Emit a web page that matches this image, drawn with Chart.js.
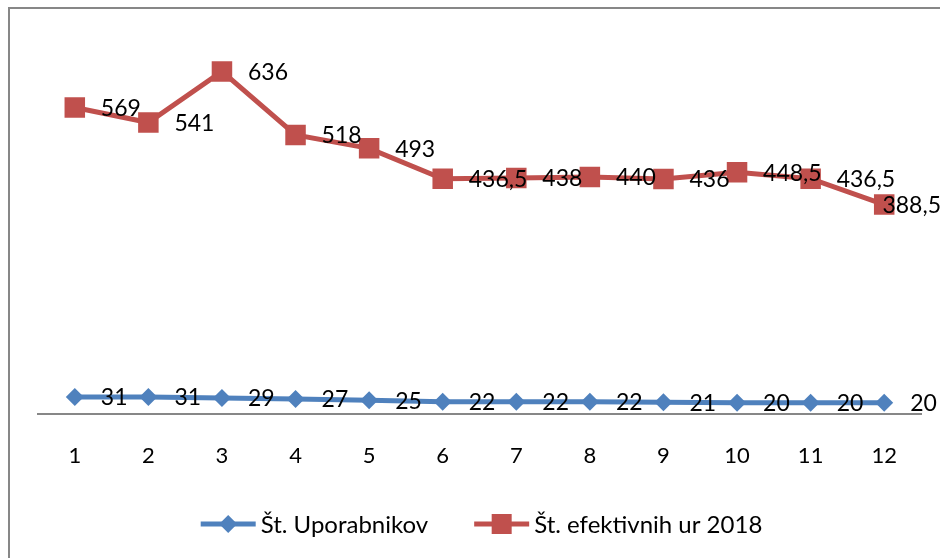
<!DOCTYPE html>
<html>
<head>
<meta charset="utf-8">
<script src="https://cdn.jsdelivr.net/npm/chart.js@4.4.1/dist/chart.umd.min.js"></script>
<style>
  html, body { margin: 0; padding: 0; background: #fff; }
  #wrap { position: relative; width: 940px; height: 558px; }
</style>
</head>
<body>
<div id="wrap"><canvas id="chart" width="940" height="558"></canvas></div>
<script>
const months = ['1', '2', '3', '4', '5', '6', '7', '8', '9', '10', '11', '12'];
const users = [31, 31, 29, 27, 25, 22, 22, 22, 21, 20, 20, 20];
const hours = [569, 541, 636, 518, 493, 436.5, 438, 440, 436, 448.5, 436.5, 388.5];
const seriesNames = ['Št. Uporabnikov', 'Št. efektivnih ur 2018'];

const BLUE = '#4F81BD';
const RED = '#C0504D';
const FONT = 'Lato, "Open Sans", sans-serif';

const frame = {
  id: 'frame',
  beforeDraw(chart) {
    const ctx = chart.ctx;
    ctx.save();
    ctx.fillStyle = '#fff';
    ctx.fillRect(0, 0, chart.width, chart.height);
    ctx.strokeStyle = '#878787';
    ctx.lineWidth = 2;
    ctx.strokeRect(9, 8, 1000, 1000);
    ctx.restore();
  }
};

// value labels to the right of each point, kept inside the canvas
const valueLabels = {
  id: 'valueLabels',
  afterDatasetsDraw(chart) {
    const ctx = chart.ctx;
    ctx.save();
    ctx.font = '23px ' + FONT;
    ctx.fillStyle = '#000';
    ctx.textBaseline = 'middle';
    ctx.textAlign = 'left';
    chart.data.datasets.forEach((ds, i) => {
      chart.getDatasetMeta(i).data.forEach((pt, j) => {
        const txt = String(ds.data[j]).replace('.', ',');
        const w = ctx.measureText(txt).width;
        let x = pt.x + 26;
        if (x + w > chart.width + 1) x = chart.width + 1 - w;
        ctx.fillText(txt, x, pt.y + 1);
      });
    });
    ctx.restore();
  }
};

// Excel style legend: line with marker, then the series name
const lineLegend = {
  id: 'lineLegend',
  afterDraw(chart) {
    const ctx = chart.ctx;
    const y = 524;
    ctx.save();
    ctx.font = '24px ' + FONT;
    ctx.textBaseline = 'middle';
    const items = chart.data.datasets.map(ds => ({ ds, w: 60 + ctx.measureText(ds.label).width }));
    const gap = 46;
    const total = items.reduce((s, it) => s + it.w, 0) + gap * (items.length - 1);
    let x = (chart.chartArea.left + chart.chartArea.right) / 2 + 2 - total / 2;
    items.forEach(({ ds, w }) => {
      ctx.strokeStyle = ds.borderColor;
      ctx.fillStyle = ds.borderColor;
      ctx.lineWidth = 5;
      ctx.beginPath(); ctx.moveTo(x, y); ctx.lineTo(x + 55, y); ctx.stroke();
      const cx = x + 27.5;
      ctx.beginPath();
      if (ds.pointStyle === 'rectRot') {
        ctx.moveTo(cx, y - 9); ctx.lineTo(cx + 9, y); ctx.lineTo(cx, y + 9); ctx.lineTo(cx - 9, y);
      } else {
        ctx.rect(cx - 10, y - 10, 20, 20);
      }
      ctx.closePath(); ctx.fill();
      ctx.fillStyle = '#000';
      ctx.fillText(ds.label, x + 60, y + 1);
      x += w + gap;
    });
    ctx.restore();
  }
};

new Chart(document.getElementById('chart'), {
  type: 'line',
  data: {
    labels: months,
    datasets: [
      {
        label: seriesNames[0],
        data: users,
        borderColor: BLUE,
        backgroundColor: BLUE,
        borderWidth: 5,
        pointStyle: 'rectRot',
        pointRadius: 9,
        pointBorderWidth: 0,
        tension: 0
      },
      {
        label: seriesNames[1],
        data: hours,
        borderColor: RED,
        backgroundColor: RED,
        borderWidth: 5,
        pointStyle: 'rect',
        pointRadius: 14.5,
        pointBorderWidth: 0,
        tension: 0
      }
    ]
  },
  options: {
    responsive: false,
    animation: false,
    devicePixelRatio: 1,
    layout: { padding: { left: 38, right: 19, top: 37, bottom: 60 } },
    scales: {
      x: {
        offset: true,
        grid: { display: false, drawTicks: false },
        border: { display: true, color: '#878787', width: 2 },
        ticks: { color: '#000', font: { family: FONT, size: 22 }, padding: 29 }
      },
      y: {
        display: false,
        min: 0,
        max: 700
      }
    },
    plugins: {
      legend: { display: false },
      tooltip: { enabled: false }
    }
  },
  plugins: [frame, valueLabels, lineLegend]
});
</script>
</body>
</html>
